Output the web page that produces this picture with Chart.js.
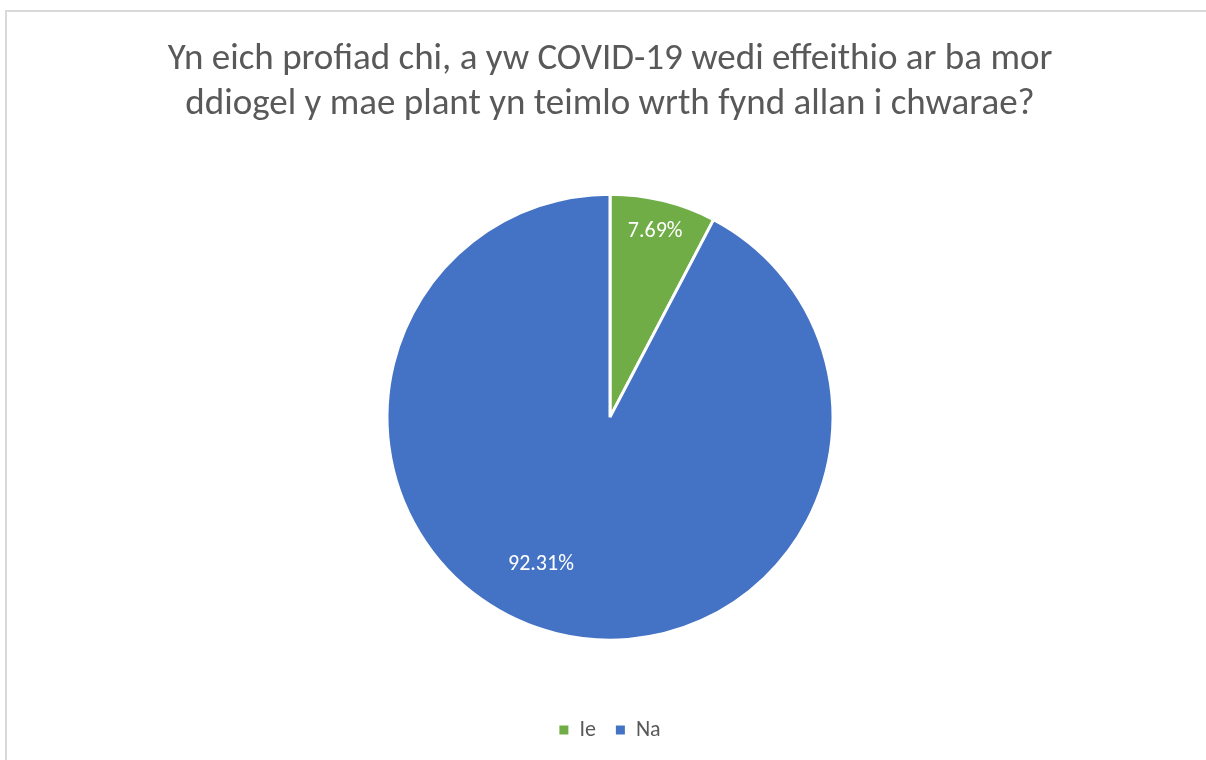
<!DOCTYPE html>
<html>
<head>
    <title>COVID-19 pie</title>
    <script src="https://cdn.jsdelivr.net/npm/chart.js"></script>
    <style>
        body {
            margin: 0;
            overflow: hidden;
            background: #fff;
            font-family: Carlito, "Open Sans", sans-serif;
        }
        #frame {
            position: absolute;
            left: 5px;
            top: 10px;
            width: 1240px;
            height: 800px;
            border: 2px solid #d9d9d9;
        }
        #wrap {
            position: absolute;
            left: 0;
            top: 0;
            width: 1220px;
            height: 760px;
        }
    </style>
</head>
<body>
    <div id="frame"></div>
    <div id="wrap"><canvas id="chart"></canvas></div>

    <script>
        const titleLines = [
            'Yn eich profiad chi, a yw COVID-19 wedi effeithio ar ba mor',
            'ddiogel y mae plant yn teimlo wrth fynd allan i chwarae?'
        ];
        const categories = ['Ie', 'Na'];
        const shares = [7.69, 92.31];
        const sliceColors = ['#70AD47', '#4472C4'];

        const FONT = 'Carlito, "Open Sans", sans-serif';

        // where Excel put the labels: fraction of radius, angle clockwise from top
        const labelSpots = [[0.856, 13.7], [0.73, 205.1]];

        const pieLabels = {
            id: 'pieLabels',
            afterDatasetsDraw(chart) {
                const ctx = chart.ctx;
                const meta = chart.getDatasetMeta(0);
                ctx.save();
                ctx.font = '22px ' + FONT;
                ctx.fillStyle = '#ffffff';
                ctx.textAlign = 'center';
                ctx.textBaseline = 'middle';
                meta.data.forEach((arc, i) => {
                    const [f, deg] = labelSpots[i];
                    const a = deg * Math.PI / 180;
                    const x = arc.x + Math.sin(a) * arc.outerRadius * f;
                    const y = arc.y - Math.cos(a) * arc.outerRadius * f;
                    ctx.fillText(shares[i].toFixed(2) + '%', x, y);
                });
                ctx.restore();
            }
        };

        const defaultLabels = Chart.overrides.pie.plugins.legend.labels.generateLabels;

        new Chart(document.getElementById('chart'), {
            type: 'pie',
            data: {
                labels: categories,
                datasets: [{
                    data: shares,
                    backgroundColor: sliceColors,
                    borderColor: '#ffffff',
                    borderWidth: 3
                }]
            },
            options: {
                responsive: true,
                maintainAspectRatio: false,
                animation: false,
                radius: 223,
                layout: { padding: { top: 0, bottom: 9 } },
                plugins: {
                    title: {
                        display: true,
                        text: titleLines,
                        color: '#595959',
                        font: { family: FONT, size: 37, weight: 'normal', lineHeight: 1.22 },
                        padding: { top: 37, bottom: 8 }
                    },
                    legend: {
                        position: 'bottom',
                        labels: {
                            boxWidth: 9,
                            boxHeight: 9,
                            color: '#595959',
                            font: { family: FONT, size: 22 },
                            padding: 20,
                            // no white outline on the legend squares
                            generateLabels(chart) {
                                return defaultLabels(chart).map(item => ({ ...item, lineWidth: 0 }));
                            }
                        }
                    },
                    tooltip: { enabled: false }
                }
            },
            plugins: [pieLabels]
        });
    </script>
</body>
</html>
